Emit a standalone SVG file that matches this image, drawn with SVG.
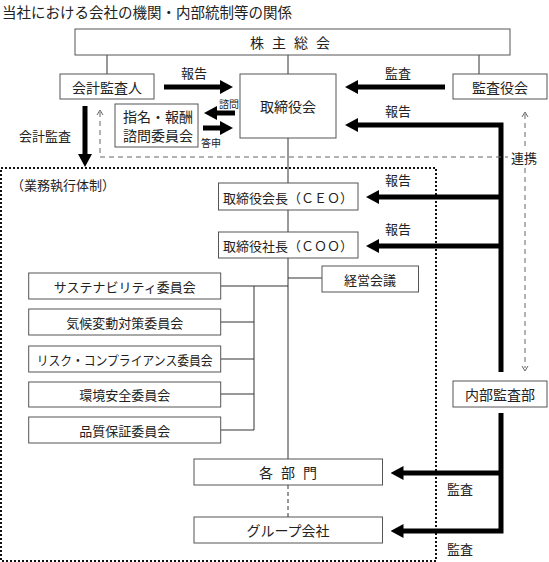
<svg xmlns="http://www.w3.org/2000/svg" width="549" height="562" viewBox="0 0 549 562">
<defs>
<style>
.bx{fill:#fff;stroke:#555;stroke-width:1}
.t{font-family:"Noto Sans CJK JP","Liberation Serif",serif;font-size:13px;fill:#222;text-anchor:middle;dominant-baseline:central}
.tb{font-size:14px}
.ts{font-size:10px}
.ln{stroke:#333;stroke-width:1;fill:none}
.th{stroke:#000;stroke-width:5;fill:none;stroke-linejoin:miter}
.ds{stroke:#666;stroke-width:1;fill:none;stroke-dasharray:5 4}
.ch{stroke:#666;stroke-width:1;fill:none}
.dt{stroke:#111;stroke-width:2;fill:none;stroke-dasharray:2 2}
</style>
<marker id="ah" viewBox="0 0 13 14" refX="3" refY="7" markerWidth="13" markerHeight="14" markerUnits="userSpaceOnUse" orient="auto">
<path d="M0,0 L13,7 L0,14 z" fill="#000"/>
</marker>
</defs>
<rect width="549" height="562" fill="#fff"/>
<text class="t" x="2" y="11" style="text-anchor:start;font-size:14.5px">当社における会社の機関・内部統制等の関係</text>

<g id="frame">
<rect class="dt" x="1" y="168" width="435" height="393"/>
<text class="t" x="11" y="184" style="text-anchor:start">（業務執行体制）</text>
</g>

<g id="connectors">
<path class="ln" d="M107,55 V74 M288,55 V74 M479,55 V74"/>
<path class="ln" d="M288,138 V183 M288,210 V232 M288,258 V459"/>
<path class="ln" d="M288,278 H322"/>
<path class="ln" d="M220.7,286 H288 M254,286 V430 M220.7,322 H254 M220.7,359 H254 M220.7,394 H254 M220.7,430 H254"/>
<path class="ln" d="M288,485 V517" style="stroke-dasharray:4 3"/>
<path class="th" d="M164,87 H223" marker-end="url(#ah)"/>
<path class="th" d="M445,87 H355" marker-end="url(#ah)"/>
<path class="th" d="M235,113 H214" marker-end="url(#ah)"/>
<path class="th" d="M203,128 H223" marker-end="url(#ah)"/>
<path class="th" d="M85,106 V157" marker-end="url(#ah)"/>
<path class="th" d="M501,372 V125 H355" marker-end="url(#ah)"/>
<path class="th" d="M501,197 H376" marker-end="url(#ah)"/>
<path class="th" d="M501,246 H376" marker-end="url(#ah)"/>
<path class="th" d="M501,413 V531 H400.5" marker-end="url(#ah)"/>
<path class="th" d="M501,473 H400.5" marker-end="url(#ah)"/>
<path class="ds" d="M100,112 V157 H508"/>
<path class="ch" d="M97,115 L100,110 L103,115"/>
<path class="ds" d="M525,114 V148 M525,168 V368"/>
<path class="ch" d="M522,117 L525,112 L528,117 M522,366 L525,371 L528,366"/>
<text class="t" x="194" y="72">報告</text>
<text class="t" x="398" y="72">監査</text>
<text class="t" x="398" y="110">報告</text>
<text class="t" x="398" y="179">報告</text>
<text class="t" x="398" y="228">報告</text>
<text class="t ts" x="229" y="103">諮問</text>
<text class="t ts" x="211" y="142">答申</text>
<text class="t" x="45" y="135">会計監査</text>
<text class="t" x="524" y="157">連携</text>
<text class="t" x="460" y="488">監査</text>
<text class="t" x="460" y="548">監査</text>
</g>

<g id="n-shareholders"><rect class="bx" x="75" y="29" width="435" height="26"/><text class="t tb" x="290" y="42" textLength="80" lengthAdjust="spacing">株主総会</text></g>
<g id="n-auditor"><rect class="bx" x="60" y="74" width="94" height="25"/><text class="t tb" x="107" y="87">会計監査人</text></g>
<g id="n-board"><rect class="bx" x="240" y="74" width="96" height="64"/><text class="t tb" x="288" y="106">取締役会</text></g>
<g id="n-kansayakukai"><rect class="bx" x="453" y="74" width="94" height="25"/><text class="t tb" x="500" y="87">監査役会</text></g>
<g id="n-nomination"><rect class="bx" x="115" y="104" width="83" height="43"/><text class="t tb" x="158" y="116">指名・報酬</text><text class="t tb" x="158" y="135">諮問委員会</text></g>
<g id="n-ceo"><rect class="bx" x="218.5" y="183" width="139.5" height="27"/><text class="t" x="288" y="197">取締役会長（ＣＥＯ）</text></g>
<g id="n-coo"><rect class="bx" x="218.5" y="232" width="139.5" height="26"/><text class="t" x="288" y="245">取締役社長（ＣＯＯ）</text></g>
<g id="n-keiei"><rect class="bx" x="322" y="266" width="96.5" height="26"/><text class="t" x="370" y="279">経営会議</text></g>
<g id="n-sus"><rect class="bx" x="28.7" y="273" width="192" height="26"/><text class="t" x="124.7" y="286">サステナビリティ委員会</text></g>
<g id="n-climate"><rect class="bx" x="28.7" y="309" width="192" height="26"/><text class="t" x="124.7" y="322">気候変動対策委員会</text></g>
<g id="n-risk"><rect class="bx" x="28.7" y="346" width="192" height="26"/><text class="t" x="124.7" y="359" textLength="176" lengthAdjust="spacingAndGlyphs">リスク・コンプライアンス委員会</text></g>
<g id="n-env"><rect class="bx" x="28.7" y="382" width="192" height="25"/><text class="t" x="124.7" y="394">環境安全委員会</text></g>
<g id="n-qa"><rect class="bx" x="28.7" y="417" width="192" height="26"/><text class="t" x="124.7" y="430">品質保証委員会</text></g>
<g id="n-depts"><rect class="bx" x="194" y="459" width="188.5" height="26"/><text class="t tb" x="288" y="472" textLength="58" lengthAdjust="spacing">各部門</text></g>
<g id="n-group"><rect class="bx" x="194" y="517" width="188.5" height="26"/><text class="t tb" x="288" y="530">グループ会社</text></g>
<g id="n-internal"><rect class="bx" x="453" y="381" width="94" height="26"/><text class="t tb" x="500" y="394">内部監査部</text></g>
</svg>
